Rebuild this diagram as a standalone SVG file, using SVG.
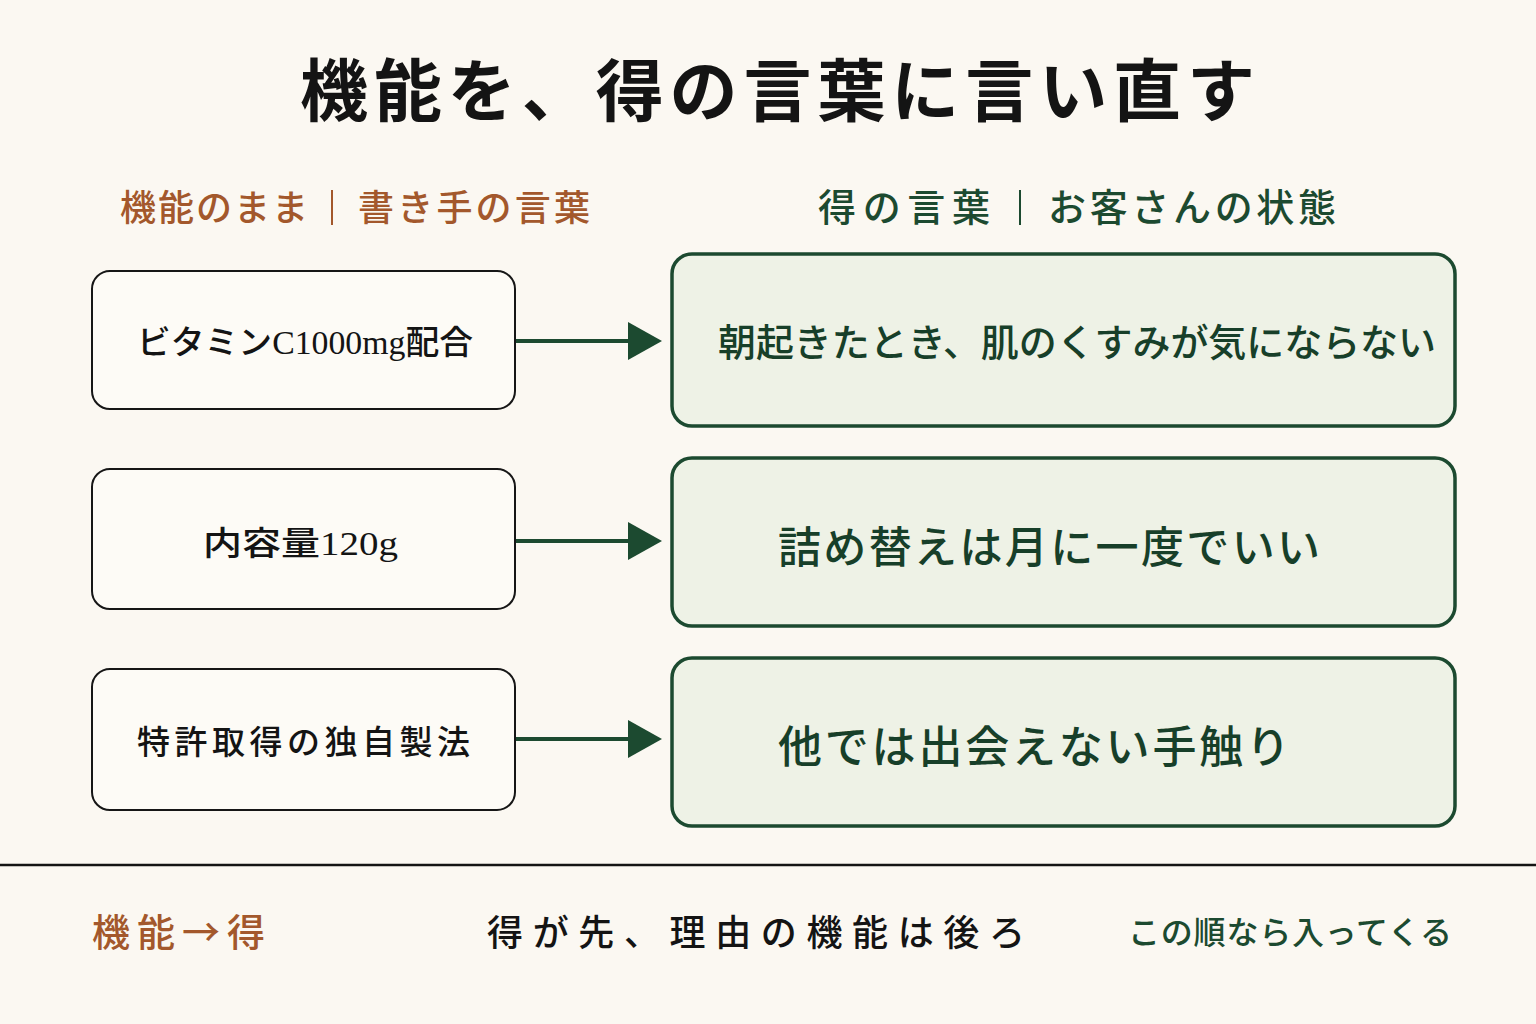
<svg xmlns="http://www.w3.org/2000/svg" width="1536" height="1024" viewBox="0 0 1536 1024">
<style>
text{font-family:"Noto Sans CJK JP","Liberation Serif",sans-serif;}
.title{font-size:68px;font-weight:700;fill:#141414;}
.hl{font-size:36px;font-weight:500;fill:#a3582c;}
.hr{font-size:38px;font-weight:500;fill:#1c4a30;}
.lbox{fill:#fdfbf6;stroke:#161616;stroke-width:2;}
.rbox{fill:#eef2e6;stroke:#1c4a30;stroke-width:3.5;}
.lt{font-size:33px;font-weight:500;fill:#141414;}
.mix{font-family:"Liberation Serif","Noto Sans CJK JP",serif;}
.rt{font-weight:500;fill:#173f29;}
.conn{stroke:#1c4a30;stroke-width:4;fill:none;}
.head{fill:#1c4a30;}
.sep{stroke-width:2;}
</style>
<rect width="1536" height="1024" fill="#fbf8f2"/>
<text class="title" x="300" y="116" textLength="955" lengthAdjust="spacing">機能を、得の言葉に言い直す</text>
<g id="header-left">
<text class="hl" x="120" y="221" textLength="188" lengthAdjust="spacing">機能のまま</text>
<line class="sep" x1="332" y1="190" x2="332" y2="225" stroke="#a3582c"/>
<text class="hl" x="358" y="221" textLength="232" lengthAdjust="spacing">書き手の言葉</text>
</g>
<g id="header-right">
<text class="hr" x="818" y="221" textLength="172" lengthAdjust="spacing">得の言葉</text>
<line class="sep" x1="1020" y1="190" x2="1020" y2="225" stroke="#1c4a30"/>
<text class="hr" x="1048" y="221" textLength="288" lengthAdjust="spacing">お客さんの状態</text>
</g>
<g id="n1">
<rect class="lbox" x="92" y="271" width="423" height="138" rx="18"/>
<text class="lt mix" x="137" y="354" textLength="336" lengthAdjust="spacingAndGlyphs">ビタミンC1000mg配合</text>
</g>
<g id="n2">
<rect class="lbox" x="92" y="469" width="423" height="140" rx="18"/>
<text class="lt mix" x="203" y="555" textLength="195" lengthAdjust="spacingAndGlyphs">内容量120g</text>
</g>
<g id="n3">
<rect class="lbox" x="92" y="669" width="423" height="141" rx="18"/>
<text class="lt" x="137" y="754" textLength="333" lengthAdjust="spacing">特許取得の独自製法</text>
</g>
<g id="r1">
<rect class="rbox" x="672" y="254" width="783" height="172" rx="20"/>
<text class="rt" x="718" y="356" font-size="38" textLength="718" lengthAdjust="spacing">朝起きたとき、肌のくすみが気にならない</text>
</g>
<g id="r2">
<rect class="rbox" x="672" y="458" width="783" height="168" rx="20"/>
<text class="rt" x="778" y="563" font-size="43" textLength="542" lengthAdjust="spacing">詰め替えは月に一度でいい</text>
</g>
<g id="r3">
<rect class="rbox" x="672" y="658" width="783" height="168" rx="20"/>
<text class="rt" x="778" y="763" font-size="44" textLength="512" lengthAdjust="spacing">他では出会えない手触り</text>
</g>
<g id="connectors">
<line class="conn" x1="516" y1="341" x2="632" y2="341"/>
<polygon class="head" points="628,322 662,341 628,360"/>
<line class="conn" x1="516" y1="541" x2="632" y2="541"/>
<polygon class="head" points="628,522 662,541 628,560"/>
<line class="conn" x1="516" y1="739" x2="632" y2="739"/>
<polygon class="head" points="628,720 662,739 628,758"/>
</g>
<line x1="0" y1="865" x2="1536" y2="865" stroke="#141414" stroke-width="2.5"/>
<g id="footer">
<text x="92" y="946" font-size="38" font-weight="500" fill="#a3582c" textLength="173" lengthAdjust="spacing">機能→得</text>
<text x="487" y="946" font-size="36" font-weight="500" fill="#141414" textLength="538" lengthAdjust="spacing">得が先、理由の機能は後ろ</text>
<text x="1128" y="944" font-size="32" font-weight="500" fill="#1c4a30" textLength="324" lengthAdjust="spacing">この順なら入ってくる</text>
</g>
</svg>
